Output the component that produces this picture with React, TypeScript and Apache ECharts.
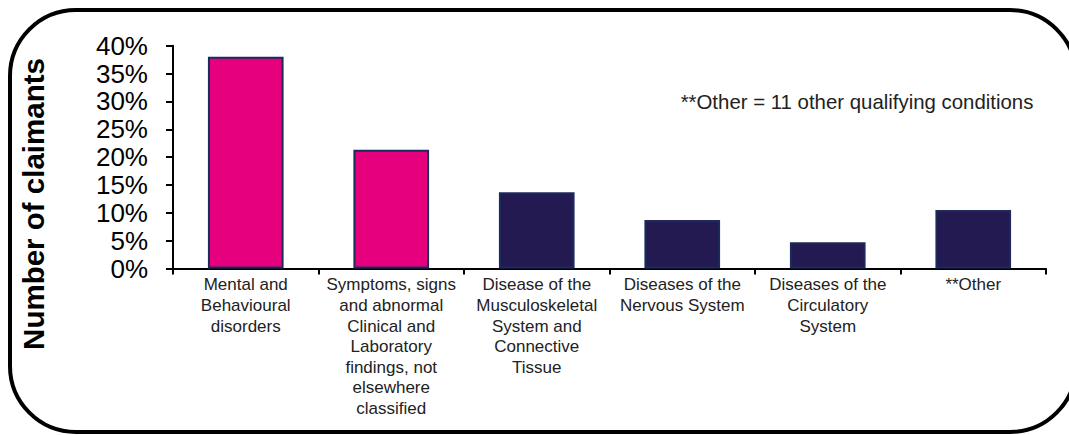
import React, { useEffect, useRef } from "react";
import * as echarts from "echarts";

const categories = [
  "Mental and\nBehavioural\ndisorders",
  "Symptoms, signs\nand abnormal\nClinical and\nLaboratory\nfindings, not\nelsewhere\nclassified",
  "Disease of the\nMusculoskeletal\nSystem and\nConnective\nTissue",
  "Diseases of the\nNervous System",
  "Diseases of the\nCirculatory\nSystem",
  "**Other",
];
const values = [38.0, 21.3, 13.7, 8.7, 4.7, 10.5];
const highlighted = [true, true, false, false, false, false];
const yTitle = "Number of claimants";
const note = "**Other = 11 other qualifying conditions";

const PINK = "#E6007E";
const NAVY = "#221A50";
const BORDER = "#1C2A5E";
const FONT = "'Liberation Sans', Arial, sans-serif";

export default function App() {
  const ref = useRef<HTMLDivElement>(null);
  useEffect(() => {
    if (!ref.current) return;
    const chart = echarts.init(ref.current, null, { renderer: "svg" });
    chart.setOption({
      animation: false,
      backgroundColor: "#ffffff",
      grid: { left: 173, right: 23, top: 45.7, bottom: 166.5, containLabel: false },
      xAxis: {
        type: "category",
        data: categories,
        axisLine: { show: true, lineStyle: { color: "#000", width: 2 } },
        axisTick: { show: true, alignWithLabel: false, length: 6, inside: false, lineStyle: { color: "#000", width: 2 } },
        axisLabel: {
          interval: 0,
          color: "#222",
          fontFamily: FONT,
          fontSize: 17,
          lineHeight: 20.6,
          margin: 6,
          align: "center",
        },
      },
      yAxis: {
        type: "value",
        min: 0,
        max: 40,
        interval: 5,
        splitLine: { show: false },
        axisLine: { show: true, lineStyle: { color: "#000", width: 2 } },
        axisTick: { show: true, length: 7, lineStyle: { color: "#000", width: 2 } },
        axisLabel: {
          formatter: (v: number) => `${v}%`,
          color: "#000",
          fontFamily: FONT,
          fontSize: 26,
          margin: 25,
        },
      },
      series: [
        {
          type: "bar",
          data: values.map((v, i) => ({
            value: v,
            itemStyle: {
              color: highlighted[i] ? PINK : NAVY,
              borderColor: BORDER,
              borderWidth: 2,
            },
          })),
          barCategoryGap: "48%",
        },
      ],
      graphic: [
        {
          type: "rect",
          shape: { x: 10, y: 10, width: 1066, height: 422, r: 66 },
          style: { fill: "none", stroke: "#000", lineWidth: 4 },
          silent: true,
        },
        {
          type: "text",
          x: 33,
          y: 204,
          rotation: Math.PI / 2,
          style: {
            text: yTitle,
            fontFamily: FONT,
            fontWeight: "bold",
            fontSize: 29.5,
            fill: "#000",
            align: "center",
            verticalAlign: "middle",
          },
        },
        {
          type: "text",
          x: 857,
          y: 102,
          style: {
            text: note,
            fontFamily: FONT,
            fontSize: 20.4,
            fill: "#222",
            align: "center",
            verticalAlign: "middle",
          },
        },
      ],
    });
    return () => chart.dispose();
  }, []);
  return (
    <div
      ref={ref}
      style={{ position: "fixed", left: 0, top: 0, width: 1069, height: 435 }}
    />
  );
}
